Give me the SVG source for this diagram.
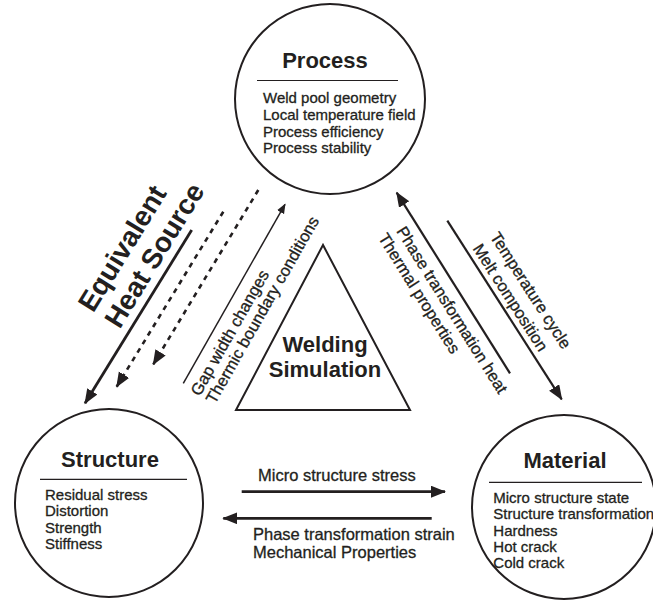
<svg xmlns="http://www.w3.org/2000/svg" width="653" height="604" viewBox="0 0 653 604">
<defs>
<style>
text{font-family:"Liberation Sans",Arial,Helvetica,sans-serif;fill:#231f20}
.title{font-size:22px;font-weight:bold;text-anchor:middle}
.item{font-size:15px;stroke:#231f20;stroke-width:0.3}
.lbl{font-size:16.5px;stroke:#231f20;stroke-width:0.3}
.mid{text-anchor:middle}
.big{font-size:28px;font-weight:bold;text-anchor:middle}
.node{fill:none;stroke:#231f20;stroke-width:2}
.rule{stroke:#231f20;stroke-width:1.2}
.arr{fill:none;stroke:#231f20;stroke-width:2.2}
.thick{stroke-width:2.8}
.thin{stroke-width:1.5}
.dash{stroke-width:2.6;stroke-dasharray:5 5}
</style>
<marker id="ah" markerUnits="userSpaceOnUse" markerWidth="16" markerHeight="13" refX="14" refY="6" orient="auto"><path d="M0,0 L15,6 L0,12 z" fill="#231f20"/></marker>
<marker id="ahs" markerUnits="userSpaceOnUse" markerWidth="11" markerHeight="9" refX="9" refY="4" orient="auto"><path d="M0,0 L10,4 L0,8 z" fill="#231f20"/></marker>
</defs>
<rect width="653" height="604" fill="#ffffff"/>

<g id="process">
<circle class="node" cx="330" cy="99" r="95"/>
<text class="title" x="325" y="68">Process</text>
<line class="rule" x1="257" y1="80.5" x2="398" y2="80.5"/>
<text class="item" x="263" y="103.3">Weld pool geometry</text>
<text class="item" x="263" y="120">Local temperature field</text>
<text class="item" x="263" y="136.7">Process efficiency</text>
<text class="item" x="263" y="153.3">Process stability</text>
</g>

<g id="structure">
<circle class="node" cx="109" cy="503" r="94"/>
<text class="title" x="110" y="466.7">Structure</text>
<line class="rule" x1="40" y1="479.3" x2="187" y2="479.3"/>
<text class="item" x="45" y="500">Residual stress</text>
<text class="item" x="45" y="516.3">Distortion</text>
<text class="item" x="45" y="532.6">Strength</text>
<text class="item" x="45" y="549">Stiffness</text>
</g>

<g id="material">
<circle class="node" cx="564" cy="507" r="92"/>
<text class="title" x="565" y="468.3">Material</text>
<line class="rule" x1="489" y1="482.3" x2="642" y2="482.3"/>
<text class="item" x="493.3" y="503">Micro structure state</text>
<text class="item" x="493.3" y="519.3">Structure transformation</text>
<text class="item" x="493.3" y="535.6">Hardness</text>
<text class="item" x="493.3" y="551.9">Hot crack</text>
<text class="item" x="493.3" y="568.2">Cold crack</text>
</g>

<g id="welding-simulation">
<polygon points="323,245 236,410 410,410" fill="none" stroke="#231f20" stroke-width="2"/>
<text class="title" x="325" y="351.7">Welding</text>
<text class="title" x="325" y="376.7">Simulation</text>
</g>

<g id="connectors">
<line class="arr thick" x1="191.7" y1="230" x2="85" y2="403.3" marker-end="url(#ah)"/>
<line class="arr dash" x1="223.3" y1="211.7" x2="116.7" y2="386.7" marker-end="url(#ah)"/>
<line class="arr dash" x1="258.3" y1="190" x2="153.3" y2="364.3" marker-end="url(#ah)"/>
<line class="arr thin" x1="183.3" y1="383.3" x2="285" y2="204.3" marker-end="url(#ahs)"/>
<line class="arr" x1="510" y1="373.3" x2="396.7" y2="192.7" marker-end="url(#ah)"/>
<line class="arr" x1="447.3" y1="220.7" x2="561.7" y2="399.3" marker-end="url(#ah)"/>
<line class="arr thick" x1="241.7" y1="491.7" x2="445" y2="491.7" marker-end="url(#ah)"/>
<line class="arr thick" x1="431.7" y1="518.3" x2="223.3" y2="518.3" marker-end="url(#ah)"/>
</g>

<g id="labels">
<text class="big" transform="translate(130.4,253.3) rotate(-58.4)">Equivalent</text>
<text class="big" transform="translate(162.5,260.2) rotate(-58.4)">Heat Source</text>
<text class="lbl mid" transform="translate(234.6,335.5) rotate(-60.4)">Gap width changes</text>
<text class="lbl mid" transform="translate(267.2,312.6) rotate(-60.4)">Thermic boundary conditions</text>
<text class="lbl mid" transform="translate(447.3,313) rotate(57.9)">Phase transformation heat</text>
<text class="lbl mid" transform="translate(414.5,296.4) rotate(57.9)">Thermal properties</text>
<text class="lbl mid" transform="translate(526,293.4) rotate(57.3)">Temperature cycle</text>
<text class="lbl mid" transform="translate(505.7,300.6) rotate(57.3)">Melt composition</text>
<text class="lbl" x="258" y="481">Micro structure stress</text>
<text class="lbl" x="253" y="540">Phase transformation strain</text>
<text class="lbl" x="253" y="558.3">Mechanical Properties</text>
</g>
</svg>
